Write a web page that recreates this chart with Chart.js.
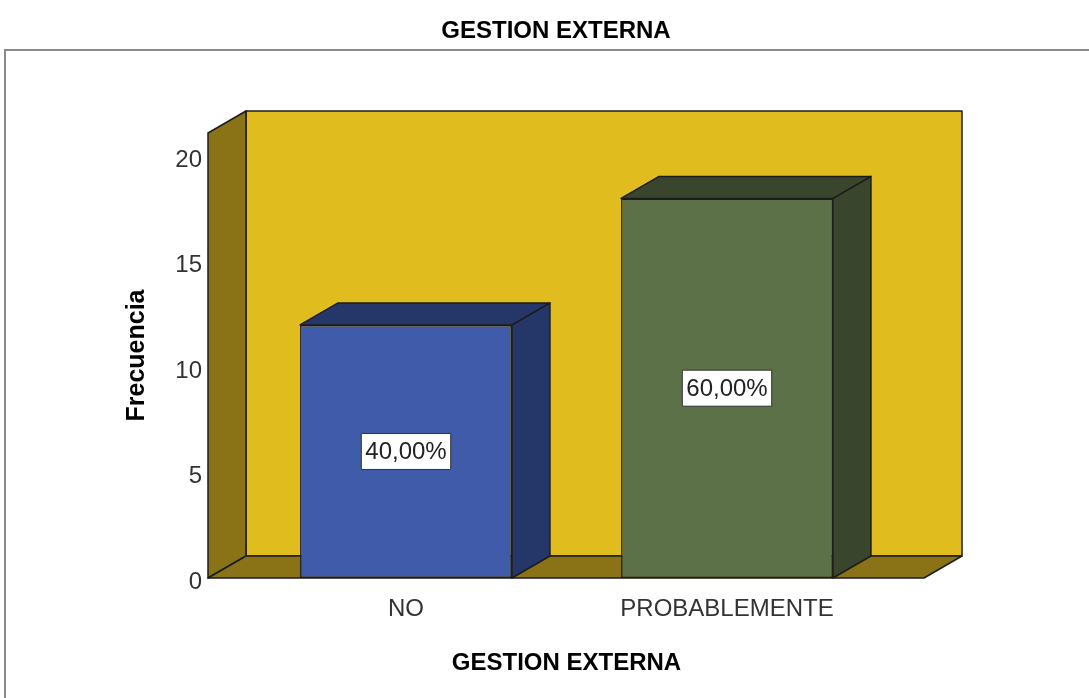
<!DOCTYPE html>
<html>
<head>
<meta charset="utf-8">
<script src="https://cdn.jsdelivr.net/npm/chart.js@4.4.0/dist/chart.umd.min.js"></script>
<style>
  html, body { margin: 0; padding: 0; background: #fff; }
  #wrap { width: 1089px; height: 698px; }
</style>
</head>
<body>
<div id="wrap"><canvas id="chart" width="1089" height="698"></canvas></div>
<script>
const categories = ["NO", "PROBABLEMENTE"];
const counts = [12, 18];
const percentLabels = ["40,00%", "60,00%"];
const yTicks = [0, 5, 10, 15, 20];
const chartTitle = "GESTION EXTERNA";
const xTitle = "GESTION EXTERNA";
const yTitle = "Frecuencia";

const frontColors = ["#3f5ba9", "#5c7148"];
const shadeColors = ["#253768", "#39452c"];
const FONT = "'Liberation Sans', Arial, sans-serif";
const EDGE = "#1c1c1c";
const DX = 38, DY = -22; // depth of the 3d box

function poly(ctx, pts, fill) {
  ctx.beginPath();
  ctx.moveTo(pts[0][0], pts[0][1]);
  for (let i = 1; i < pts.length; i++) ctx.lineTo(pts[i][0], pts[i][1]);
  ctx.closePath();
  ctx.fillStyle = fill;
  ctx.fill();
  ctx.stroke();
}

// white page, grey frame and the main title
const framePlugin = {
  id: "frame",
  beforeDraw(chart) {
    const ctx = chart.ctx;
    ctx.save();
    ctx.fillStyle = "#fff";
    ctx.fillRect(0, 0, chart.width, chart.height);
    ctx.strokeStyle = "#8a8a8a";
    ctx.lineWidth = 2;
    ctx.strokeRect(5, 50, chart.width + 20, chart.height + 20);
    ctx.fillStyle = "#000";
    ctx.font = "bold 24px " + FONT;
    ctx.textAlign = "center";
    ctx.textBaseline = "middle";
    ctx.fillText(chartTitle, 556, 31);
    ctx.restore();
  }
};

// back wall, left wall and floor
const wallsPlugin = {
  id: "walls",
  beforeDatasetsDraw(chart) {
    const a = chart.chartArea, ctx = chart.ctx;
    const xL = a.left - 37.5, xR = a.right + 36.5, yT = a.top, yB = a.bottom;
    ctx.save();
    ctx.strokeStyle = EDGE;
    ctx.lineWidth = 1.5;
    ctx.lineJoin = "round";
    poly(ctx, [[xL + DX, yT + DY], [xR + DX, yT + DY], [xR + DX, yB + DY], [xL + DX, yB + DY]], "#e0bc1f");
    poly(ctx, [[xL, yT], [xL + DX, yT + DY], [xL + DX, yB + DY], [xL, yB]], "#8a7316");
    poly(ctx, [[xL, yB], [xL + DX, yB + DY], [xR + DX, yB + DY], [xR, yB]], "#8a7316");
    ctx.restore();
  }
};

// top and side faces of the bars, then the percent boxes
const barsPlugin = {
  id: "bars3d",
  afterDatasetsDraw(chart) {
    const ctx = chart.ctx;
    const yScale = chart.scales.y;
    const meta = chart.getDatasetMeta(0);
    ctx.save();
    ctx.strokeStyle = EDGE;
    ctx.lineWidth = 1.5;
    ctx.lineJoin = "round";
    meta.data.forEach((bar, i) => {
      const p = bar.getProps(["x", "y", "base", "width"], true);
      const x0 = p.x - p.width / 2, x1 = p.x + p.width / 2;
      poly(ctx, [[x1, p.y], [x1 + DX, p.y + DY], [x1 + DX, p.base + DY], [x1, p.base]], shadeColors[i]);
      poly(ctx, [[x0, p.y], [x0 + DX, p.y + DY], [x1 + DX, p.y + DY], [x1, p.y]], shadeColors[i]);
    });
    ctx.font = "24px " + FONT;
    ctx.textAlign = "center";
    ctx.textBaseline = "middle";
    meta.data.forEach((bar, i) => {
      const cx = bar.x;
      const cy = yScale.getPixelForValue(counts[i] / 2);
      const w = ctx.measureText(percentLabels[i]).width + 8;
      const h = 36;
      ctx.fillStyle = "#fff";
      ctx.fillRect(cx - w / 2, cy - h / 2, w, h);
      ctx.strokeStyle = "#333";
      ctx.lineWidth = 1;
      ctx.strokeRect(cx - w / 2, cy - h / 2, w, h);
      ctx.fillStyle = "#222";
      ctx.fillText(percentLabels[i], cx, cy + 1);
    });
    ctx.restore();
  }
};

new Chart(document.getElementById("chart"), {
  type: "bar",
  data: {
    labels: categories,
    datasets: [{
      data: counts,
      backgroundColor: frontColors,
      borderColor: EDGE,
      borderWidth: 1.5,
      borderSkipped: false,
      categoryPercentage: 1,
      barPercentage: 0.66
    }]
  },
  options: {
    responsive: false,
    animation: false,
    devicePixelRatio: 1,
    layout: { padding: { left: 118, right: 201.5, top: 133, bottom: 20 } },
    plugins: { legend: { display: false }, tooltip: { enabled: false }, title: { display: false } },
    scales: {
      x: {
        grid: { display: false, drawTicks: false },
        border: { display: false },
        ticks: { color: "#333", font: { family: FONT, size: 24 }, padding: 17 },
        title: { display: true, text: xTitle, color: "#000", font: { family: FONT, size: 24, weight: "bold" }, padding: 0 },
        afterFit(s) { s.height = 100; }
      },
      y: {
        min: 0,
        max: 21.1,
        grid: { display: false, drawTicks: false },
        border: { display: false },
        ticks: { stepSize: 5, color: "#333", font: { family: FONT, size: 24 }, padding: 43.5, labelOffset: 4 },
        afterBuildTicks(s) { s.ticks = yTicks.map(v => ({ value: v })); },
        title: { display: true, text: yTitle, color: "#000", font: { family: FONT, size: 25, weight: "bold" }, padding: 4 },
        afterFit(s) { s.width = 127.5; }
      }
    }
  },
  plugins: [framePlugin, wallsPlugin, barsPlugin]
});
</script>
</body>
</html>
